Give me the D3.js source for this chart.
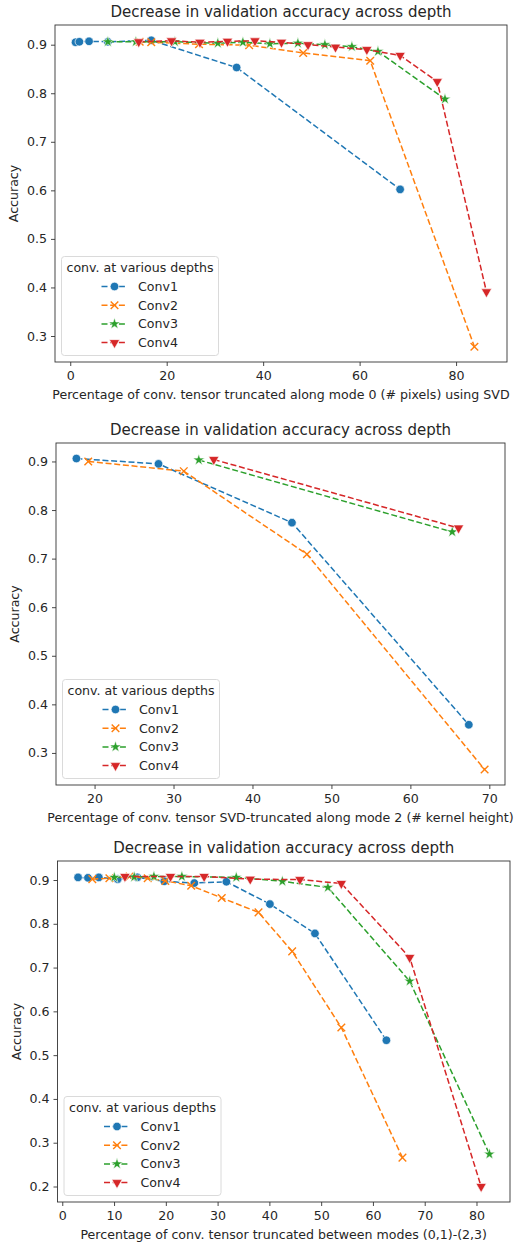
<!DOCTYPE html>
<html><head><meta charset="utf-8">
<script src="https://cdn.jsdelivr.net/npm/d3@7"></script>
<style>body{margin:0;background:#fff}svg{display:block;font-family:"DejaVu Sans",sans-serif}</style>
</head><body><svg id="c" width="522" height="1247"></svg>
<script>
// ---------- text ----------
const seriesNames = ["Conv1", "Conv2", "Conv3", "Conv4"];
const chartTitle = "Decrease in validation accuracy across depth";
const legendTitle = "conv. at various depths";
const yLabel = "Accuracy";
const xLabels = [
  "Percentage of conv. tensor truncated along mode 0 (# pixels) using SVD",
  "Percentage of conv. tensor SVD-truncated along mode 2 (# kernel height)",
  "Percentage of conv. tensor truncated between modes (0,1)-(2,3)"
];
// ---------- tick labels ----------
const p1XTicks = [0, 20, 40, 60, 80];
const p2XTicks = [20, 30, 40, 50, 60, 70];
const p3XTicks = [0, 10, 20, 30, 40, 50, 60, 70, 80];
const p1YTicks = [0.3, 0.4, 0.5, 0.6, 0.7, 0.8, 0.9];
const p2YTicks = [0.3, 0.4, 0.5, 0.6, 0.7, 0.8, 0.9];
const p3YTicks = [0.2, 0.3, 0.4, 0.5, 0.6, 0.7, 0.8, 0.9];

// ---------- panel 1 data ----------
const p1Conv1X = [1.1, 1.9, 3.9, 7.8, 16.8, 34.5, 68.4];
const p1Conv1Y = [0.905, 0.906, 0.907, 0.906, 0.909, 0.853, 0.602];
const p1Conv2X = [14.4, 16.8, 26.7, 37.1, 48.3, 62.2, 83.8];
const p1Conv2Y = [0.906, 0.905, 0.901, 0.899, 0.883, 0.867, 0.278];
const p1Conv3X = [7.8, 13.6, 21.7, 30.6, 35.8, 41.4, 47.2, 52.8, 58.4, 63.8, 77.7];
const p1Conv3Y = [0.906, 0.906, 0.906, 0.903, 0.905, 0.902, 0.903, 0.900, 0.896, 0.886, 0.788];
const p1Conv4X = [14.2, 21.0, 26.9, 32.6, 38.3, 43.8, 49.3, 55.0, 61.5, 68.4, 76.1, 86.3];
const p1Conv4Y = [0.906, 0.908, 0.905, 0.907, 0.908, 0.905, 0.900, 0.895, 0.890, 0.878, 0.824, 0.391];

// ---------- panel 2 data ----------
const p2Conv1X = [17.7, 28.1, 45.0, 67.4];
const p2Conv1Y = [0.906, 0.895, 0.774, 0.358];
const p2Conv2X = [19.2, 31.3, 46.9, 69.4];
const p2Conv2Y = [0.900, 0.880, 0.709, 0.266];
const p2Conv3X = [33.2, 65.3];
const p2Conv3Y = [0.903, 0.755];
const p2Conv4X = [35.1, 66.1];
const p2Conv4Y = [0.904, 0.763];

// ---------- panel 3 data ----------
const p3Conv1X = [3.05, 4.96, 7.06, 10.7, 14.5, 19.7, 25.5, 31.7, 40.1, 48.8, 62.6];
const p3Conv1Y = [0.906, 0.905, 0.906, 0.902, 0.906, 0.897, 0.893, 0.896, 0.845, 0.778, 0.534];
const p3Conv2X = [5.8, 9.1, 13.0, 16.5, 19.9, 24.9, 30.8, 37.9, 44.4, 53.9, 65.7];
const p3Conv2Y = [0.902, 0.904, 0.908, 0.904, 0.898, 0.887, 0.859, 0.826, 0.737, 0.563, 0.266];
const p3Conv3X = [10.05, 13.9, 17.7, 23.1, 33.6, 42.5, 51.3, 67.1, 82.5];
const p3Conv3Y = [0.906, 0.907, 0.908, 0.908, 0.906, 0.897, 0.883, 0.669, 0.274];
const p3Conv4X = [12.1, 20.9, 27.4, 36.3, 45.9, 53.9, 67.1, 80.9];
const p3Conv4Y = [0.908, 0.908, 0.908, 0.902, 0.901, 0.892, 0.723, 0.200];

// ---------- styling / layout ----------
const colors = ["#1f77b4", "#ff7f0e", "#2ca02c", "#d62728"];
const markers = ["circle", "x", "star", "tri"];
const textColor = "#262626";
const fs = "12.6px";

const panels = [
  { frame: {l: 55, r: 507, t: 25, b: 362}, xTicks: p1XTicks, yTicks: p1YTicks, xLabel: xLabels[0],
    xs: [p1Conv1X, p1Conv2X, p1Conv3X, p1Conv4X], ys: [p1Conv1Y, p1Conv2Y, p1Conv3Y, p1Conv4Y] },
  { frame: {l: 56, r: 505, t: 443, b: 785}, xTicks: p2XTicks, yTicks: p2YTicks, xLabel: xLabels[1],
    xs: [p2Conv1X, p2Conv2X, p2Conv3X, p2Conv4X], ys: [p2Conv1Y, p2Conv2Y, p2Conv3Y, p2Conv4Y] },
  { frame: {l: 57.5, r: 510, t: 861, b: 1202}, xTicks: p3XTicks, yTicks: p3YTicks, xLabel: xLabels[2],
    xs: [p3Conv1X, p3Conv2X, p3Conv3X, p3Conv4X], ys: [p3Conv1Y, p3Conv2Y, p3Conv3Y, p3Conv4Y] }
];

const svg = d3.select("#c");

function drawMarker(g, kind, color) {
  if (kind === "circle") {
    g.append("path").attr("d", d3.symbol(d3.symbolCircle, 58)())
      .attr("fill", color).attr("stroke", "#fff").attr("stroke-width", 0.7);
  } else if (kind === "x") {
    g.append("path").attr("d", "M-3.8,-3.8L3.8,3.8M-3.8,3.8L3.8,-3.8")
      .attr("fill", "none").attr("stroke", color).attr("stroke-width", 1.4);
  } else if (kind === "star") {
    g.append("path").attr("d", d3.symbol(d3.symbolStar, 42)())
      .attr("fill", color).attr("stroke", "#fff").attr("stroke-width", 0.6);
  } else {
    g.append("path").attr("d", d3.symbol(d3.symbolTriangle, 46)())
      .attr("transform", "rotate(180)")
      .attr("fill", color).attr("stroke", "#fff").attr("stroke-width", 0.6);
  }
}

function pad(ext) {
  const d = ext[1] - ext[0];
  return [ext[0] - 0.05 * d, ext[1] + 0.05 * d];
}

panels.forEach(p => {
  const f = p.frame;
  const allX = p.xs.flat(), allY = p.ys.flat();
  const x = d3.scaleLinear().domain(pad(d3.extent(allX))).range([f.l, f.r]);
  const y = d3.scaleLinear().domain(pad(d3.extent(allY))).range([f.b, f.t]);
  const g = svg.append("g");

  // axes
  const xa = g.append("g").attr("transform", `translate(0,${f.b})`)
    .call(d3.axisBottom(x).tickValues(p.xTicks).tickSize(4).tickPadding(5).tickFormat(d3.format("d")));
  const ya = g.append("g").attr("transform", `translate(${f.l},0)`)
    .call(d3.axisLeft(y).tickValues(p.yTicks).tickSize(4).tickPadding(4).tickFormat(d3.format(".1f")));
  [xa, ya].forEach(a => {
    a.select(".domain").remove();
    a.selectAll("line").attr("stroke", "#333").attr("stroke-width", 0.9);
    a.selectAll("text").attr("fill", textColor).style("font-size", fs)
      .style("font-family", "'DejaVu Sans', sans-serif");
  });

  // series
  const line = d3.line().x(d => x(d[0])).y(d => y(d[1]));
  const clip = "clip" + f.t;
  g.append("clipPath").attr("id", clip).append("rect")
    .attr("x", f.l).attr("y", f.t).attr("width", f.r - f.l).attr("height", f.b - f.t);
  const sg = g.append("g").attr("clip-path", `url(#${clip})`);
  seriesNames.forEach((name, i) => {
    const pts = p.xs[i].map((v, k) => [v, p.ys[i][k]]);
    const s = sg.append("g");
    s.append("path").attr("d", line(pts)).attr("fill", "none")
      .attr("stroke", colors[i]).attr("stroke-width", 1.5).attr("stroke-dasharray", "6,2.7");
    pts.forEach(pt => {
      const m = s.append("g").attr("transform", `translate(${x(pt[0])},${y(pt[1])})`);
      drawMarker(m, markers[i], colors[i]);
    });
  });

  // frame
  g.append("rect").attr("x", f.l).attr("y", f.t).attr("width", f.r - f.l).attr("height", f.b - f.t)
    .attr("fill", "none").attr("stroke", "#333").attr("stroke-width", 0.9);

  // title and labels
  g.append("text").attr("x", (f.l + f.r) / 2).attr("y", f.t - 8).attr("text-anchor", "middle")
    .attr("fill", textColor).style("font-size", "15px").text(chartTitle);
  g.append("text").attr("x", (f.l + f.r) / 2).attr("y", f.b + 37).attr("text-anchor", "middle")
    .attr("fill", textColor).style("font-size", fs).text(p.xLabel);
  g.append("text").attr("transform", `translate(${f.l - 37},${(f.t + f.b) / 2}) rotate(-90)`)
    .attr("text-anchor", "middle").attr("fill", textColor).style("font-size", fs).text(yLabel);

  // legend
  const lw = 157, lh = 99;
  const lx = f.l + 6.5, ly = f.b - 6.5 - lh;
  const lg = g.append("g").attr("transform", `translate(${lx},${ly})`);
  lg.append("rect").attr("width", lw).attr("height", lh).attr("rx", 3)
    .attr("fill", "#fff").attr("fill-opacity", 0.85).attr("stroke", "#d6d6d6").attr("stroke-width", 0.9);
  lg.append("text").attr("x", lw / 2).attr("y", 15.5).attr("text-anchor", "middle")
    .attr("fill", textColor).style("font-size", fs).text(legendTitle);
  seriesNames.forEach((name, i) => {
    const cy = 30 + i * 18.7;
    lg.append("line").attr("x1", 40).attr("x2", 66).attr("y1", cy).attr("y2", cy)
      .attr("stroke", colors[i]).attr("stroke-width", 1.5).attr("stroke-dasharray", "6,2.7");
    const m = lg.append("g").attr("transform", `translate(53,${cy})`);
    drawMarker(m, markers[i], colors[i]);
    lg.append("text").attr("x", 76.5).attr("y", cy + 4.5).attr("fill", textColor)
      .style("font-size", fs).text(name);
  });
});
</script>
</body></html>
